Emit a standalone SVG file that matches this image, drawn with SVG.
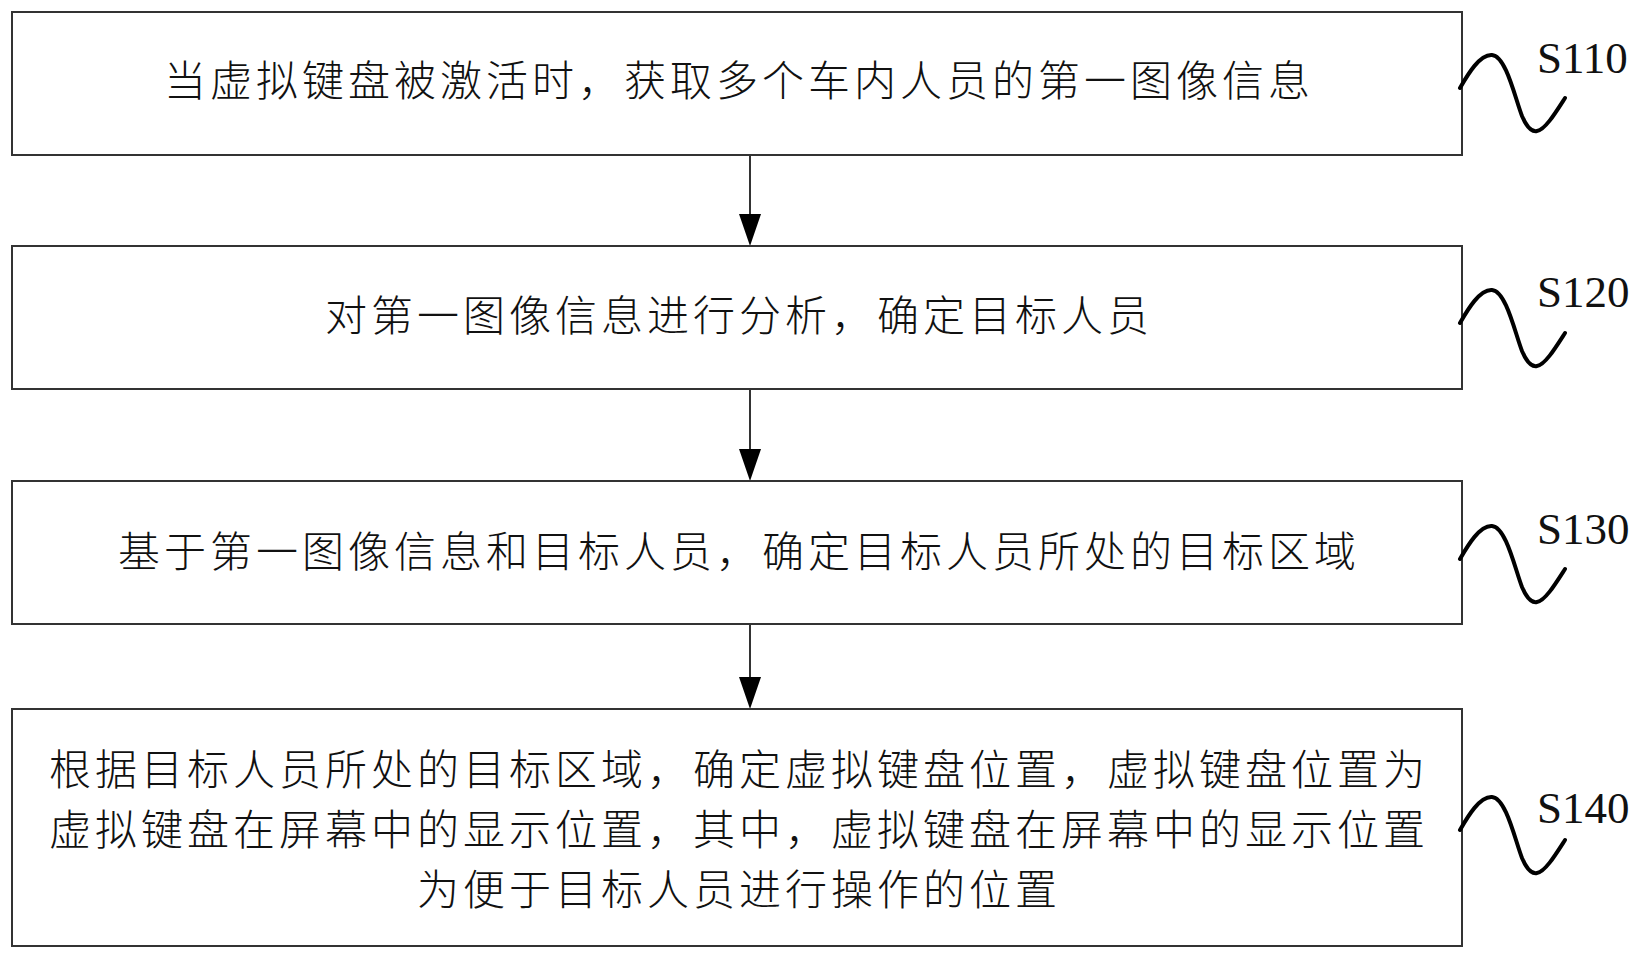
<svg xmlns="http://www.w3.org/2000/svg" xmlns:xlink="http://www.w3.org/1999/xlink" width="1640" height="958" viewBox="0 0 1640 958">
<style>
.box{fill:#fff;stroke:#333;stroke-width:2}
.t{font-family:"Noto Sans CJK SC","Noto Sans CJK JP",sans-serif;font-size:42px;font-weight:300;letter-spacing:4px;fill:#111;text-anchor:middle}
.lbl{font-family:"Liberation Serif","Times New Roman",serif;font-size:45px;fill:#111}
.wave{fill:none;stroke:#000;stroke-width:4;stroke-linecap:round}
.con{stroke:#000;stroke-width:1.6;fill:none}
.head{fill:#000}
</style>
<defs>
<path id="w" d="M0,0 C8,-14 20,-34 32,-33 C46,-32 55,10 62,28 C67,40 72,44 77,43 C85,42 96,24 105,10"/>
</defs>
<rect width="1640" height="958" fill="#fff"/>
<g id="connectors">
<line class="con" x1="750" y1="155" x2="750" y2="216"/>
<polygon class="head" points="739,214 761,214 750,246"/>
<line class="con" x1="750" y1="389" x2="750" y2="451"/>
<polygon class="head" points="739,449 761,449 750,481"/>
<line class="con" x1="750" y1="624" x2="750" y2="679"/>
<polygon class="head" points="739,677 761,677 750,709"/>
</g>
<g id="s110">
<rect class="box" x="12" y="12" width="1450" height="143"/>
<text class="t" x="739" y="96">当虚拟键盘被激活时，获取多个车内人员的第一图像信息</text>
<use xlink:href="#w" class="wave" x="1460" y="88"/>
<text class="lbl" x="1537" y="73">S110</text>
</g>
<g id="s120">
<rect class="box" x="12" y="246" width="1450" height="143"/>
<text class="t" x="739" y="331">对第一图像信息进行分析，确定目标人员</text>
<use xlink:href="#w" class="wave" x="1460" y="323"/>
<text class="lbl" x="1537" y="307">S120</text>
</g>
<g id="s130">
<rect class="box" x="12" y="481" width="1450" height="143"/>
<text class="t" x="739" y="567">基于第一图像信息和目标人员，确定目标人员所处的目标区域</text>
<use xlink:href="#w" class="wave" x="1460" y="559"/>
<text class="lbl" x="1537" y="544">S130</text>
</g>
<g id="s140">
<rect class="box" x="12" y="709" width="1450" height="237"/>
<text class="t" x="739" y="785">根据目标人员所处的目标区域，确定虚拟键盘位置，虚拟键盘位置为</text>
<text class="t" x="739" y="845">虚拟键盘在屏幕中的显示位置，其中，虚拟键盘在屏幕中的显示位置</text>
<text class="t" x="739" y="905">为便于目标人员进行操作的位置</text>
<use xlink:href="#w" class="wave" x="1460" y="830"/>
<text class="lbl" x="1537" y="823">S140</text>
</g>
</svg>
